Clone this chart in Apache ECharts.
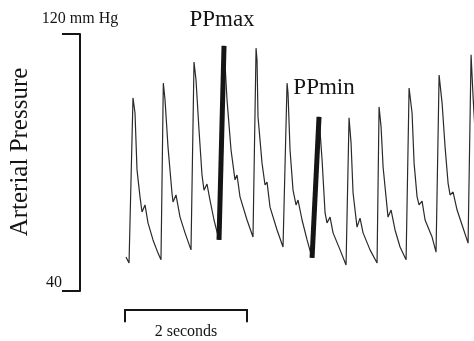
<!DOCTYPE html>
<html>
<head>
<meta charset="utf-8">
<script src="https://cdn.jsdelivr.net/npm/echarts@6/dist/echarts.min.js"></script>
<style>
  html, body { margin: 0; padding: 0; background: #fff; }
  #chart { width: 474px; height: 341px; }
</style>
</head>
<body>
<div id="chart"></div>
<script>
// arterial pressure trace, time in seconds, pressure in mmHg
const timeSec = [
  0.016, 0.066, 0.131, 0.164, 0.197, 0.246, 0.279, 0.328, 0.377, 0.459, 0.541, 0.590,
  0.628, 0.656, 0.705, 0.770, 0.787, 0.836, 0.902, 0.984, 1.082,
  1.131, 1.164, 1.213, 1.262, 1.295, 1.344, 1.393, 1.459, 1.541,
  1.623, 1.672, 1.738, 1.803, 1.836, 1.885, 2.000, 2.098,
  2.148, 2.164, 2.180, 2.246, 2.295, 2.328, 2.377, 2.492, 2.590,
  2.656, 2.672, 2.705, 2.754, 2.803, 2.836, 2.902, 2.984, 3.066,
  3.180, 3.230, 3.279, 3.311, 3.361, 3.410, 3.525, 3.623,
  3.672, 3.705, 3.738, 3.803, 3.852, 3.902, 4.016, 4.131,
  4.164, 4.197, 4.230, 4.311, 4.361, 4.426, 4.508, 4.607,
  4.656, 4.705, 4.738, 4.787, 4.820, 4.869, 4.918, 5.033, 5.098,
  5.148, 5.197, 5.246, 5.295, 5.328, 5.377, 5.443, 5.541, 5.623,
  5.672, 5.705, 5.754
]
const pressure = [
  50.6, 48.7, 100.1, 95.4, 77.7, 69.3, 64.6, 66.8, 61.2, 55.9, 51.8, 49.7,
  104.7, 99.5, 84.8, 70.5, 67.7, 69.9, 63.0, 58.1, 52.8,
  111.3, 105.7, 90.1, 76.1, 71.4, 73.3, 68.3, 62.1, 55.9,
  116.3, 99.5, 83.9, 74.6, 76.1, 69.3, 62.1, 56.8,
  115.6, 111.9, 94.2, 79.8, 73.0, 73.9, 66.1, 59.0, 53.7,
  104.7, 101.6, 83.9, 71.4, 66.8, 68.3, 62.1, 55.9, 50.3,
  94.2, 80.8, 64.3, 61.2, 63.0, 58.1, 52.8, 48.1,
  93.9, 86.1, 70.5, 59.9, 62.7, 58.1, 52.8, 48.7,
  97.3, 91.1, 78.6, 63.0, 65.2, 59.0, 53.7, 49.7,
  103.2, 95.4, 79.8, 69.3, 66.8, 68.0, 62.1, 56.8, 52.1,
  107.2, 98.5, 84.8, 73.6, 69.9, 70.8, 65.2, 59.6, 54.9,
  113.5, 100.4, 83.9
]
// upstrokes drawn heavy: [foot index, peak index]
const ppMaxIdx = [29, 30]
const ppMinIdx = [55, 56]

const yTicks = [40, 120]
const scaleBarSec = [0, 2]

const serif = "'Liberation Serif', 'DejaVu Serif', serif"
const ink = '#151515'

const trace = timeSec.map((t, i) => [t, pressure[i]])
const pick = idx => idx.map(i => trace[i])

function heavy(name, idx, label, offset) {
  const peak = trace[idx[1]]
  return {
    name: name,
    type: 'line',
    data: pick(idx),
    symbol: 'none',
    lineStyle: { color: ink, width: 5 },
    markPoint: {
      symbol: 'circle',
      symbolSize: 1,
      itemStyle: { color: 'rgba(0,0,0,0)' },
      data: [{ coord: peak }],
      label: {
        show: true,
        formatter: label,
        position: 'top',
        distance: 0,
        offset: offset,
        color: ink,
        fontFamily: serif,
        fontSize: 23
      }
    }
  }
}

const chart = echarts.init(document.getElementById('chart'))

chart.setOption({
  animation: false,
  backgroundColor: '#fff',
  grid: [
    { left: 125, right: 0, top: 34, height: 257 },
    { left: 125, width: 122, top: 309, height: 1 }
  ],
  xAxis: [
    { type: 'value', gridIndex: 0, min: 0, max: 5.72, show: false },
    {
      type: 'value', gridIndex: 1, min: scaleBarSec[0], max: scaleBarSec[1],
      interval: scaleBarSec[1] - scaleBarSec[0],
      position: 'bottom',
      axisLine: { show: true, onZero: false, lineStyle: { color: ink, width: 2 } },
      axisTick: { show: true, length: 13, lineStyle: { color: ink, width: 2 } },
      axisLabel: { show: false },
      splitLine: { show: false },
      name: '2 seconds',
      nameLocation: 'middle',
      nameGap: 15,
      nameTextStyle: { color: ink, fontFamily: serif, fontSize: 16 }
    }
  ],
  yAxis: [
    {
      type: 'value', gridIndex: 0, min: yTicks[0], max: yTicks[1],
      interval: yTicks[1] - yTicks[0],
      offset: 45,
      axisLine: { show: true, onZero: false, lineStyle: { color: ink, width: 2 } },
      axisTick: { show: true, length: 18, lineStyle: { color: ink, width: 2 } },
      axisLabel: {
        formatter: v => (v === yTicks[0] ? String(v) : ''),
        verticalAlign: 'bottom',
        margin: 18,
        color: ink,
        fontFamily: serif,
        fontSize: 16
      },
      splitLine: { show: false },
      name: '120 mm Hg',
      nameLocation: 'end',
      nameGap: 7,
      nameTextStyle: { color: ink, fontFamily: serif, fontSize: 16, align: 'center' }
    },
    { type: 'value', gridIndex: 1, show: false }
  ],
  graphic: [
    {
      type: 'text',
      x: 20,
      y: 152,
      rotation: Math.PI / 2,
      style: {
        text: 'Arterial Pressure',
        fill: ink,
        font: '25px ' + serif,
        textAlign: 'center',
        textVerticalAlign: 'middle'
      }
    }
  ],
  series: [
    {
      name: 'trace',
      type: 'line',
      data: trace,
      symbol: 'none',
      clip: true,
      lineStyle: { color: '#2a2a2a', width: 1.2 }
    },
    heavy('ppmax', ppMaxIdx, 'PPmax', [-2, -14]),
    heavy('ppmin', ppMinIdx, 'PPmin', [5, -17])
  ]
})
</script>
</body>
</html>
